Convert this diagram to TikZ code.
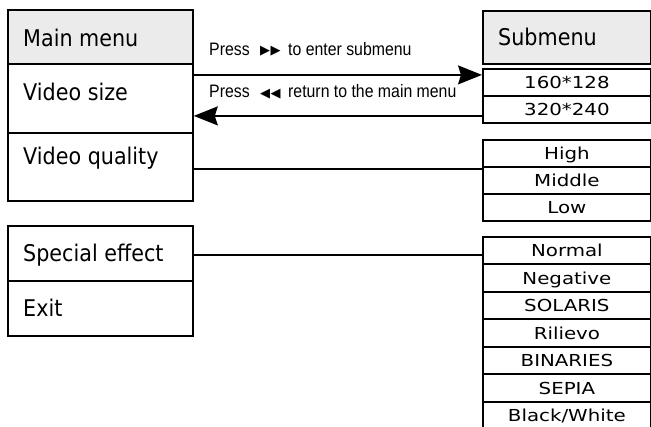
\documentclass[tikz,border=0pt]{standalone}
\usepackage{fontspec}
\setmainfont{DejaVu Sans}
\newfontfamily\menufont[FakeStretch=0.9]{DejaVu Sans}
\newfontfamily\itemfont[FakeStretch=1.2]{DejaVu Sans}
\newfontfamily\pressfont[FakeStretch=0.88]{Liberation Sans}
\newfontfamily\symfont{DejaVu Sans}
\usetikzlibrary{arrows.meta}
\definecolor{hdrgray}{RGB}{235,235,235}
\begin{document}
\begin{tikzpicture}[x=1pt,y=-1pt,
  cell/.style={draw=black, line width=1.8pt, anchor=north west, inner sep=0pt,
    text height=12pt, text depth=0pt, font=\itemfont\fontsize{16.5}{19}\selectfont},
  hdr/.style={cell, fill=hdrgray},
  mtext/.style={anchor=base west, inner sep=0pt, font=\menufont\fontsize{23}{26}\selectfont},
  ptext/.style={anchor=base west, inner sep=0pt, font=\pressfont\fontsize{18}{20}\selectfont},
  tri/.style={anchor=base west, inner sep=0pt, font=\symfont\fontsize{13}{14}\selectfont},
  conn/.style={line width=1.6pt},
  arr/.style={conn, -{Stealth[length=24pt,width=19pt,inset=3pt]}}]
\useasboundingbox (0,0) rectangle (651,427);

% main menu
\node[hdr, minimum width=185pt, minimum height=54pt] (mhead) at (7,9) {};
\node[cell, minimum width=185pt, minimum height=69pt] (msize) at (7,63) {};
\node[cell, minimum width=185pt, minimum height=68pt] (mqual) at (7,132) {};
\node[cell, minimum width=185pt, minimum height=55pt] (meff) at (7,225) {};
\node[cell, minimum width=185pt, minimum height=55pt] (mexit) at (7,280) {};
\node[mtext] (tmain) at (23,47) {Main menu};
\node[mtext] (tsize) at (23,101) {Video size};
\node[mtext] (tqual) at (23,165) {Video quality};
\node[mtext] (teff) at (23,262) {Special effect};
\node[mtext] (texit) at (23,316.5) {Exit};

% submenu
\node[hdr, minimum width=168pt, minimum height=53pt] (shead) at (482,10) {};
\node[mtext] (tsub) at (498,45.5) {Submenu};
\node[cell, minimum width=168pt, minimum height=27pt] (s1) at (482,68) {160*128};
\node[cell, minimum width=168pt, minimum height=27pt] (s2) at (482,95) {320*240};
\node[cell, minimum width=168pt, minimum height=27pt] (q1) at (482,139) {High};
\node[cell, minimum width=168pt, minimum height=27pt] (q2) at (482,166) {Middle};
\node[cell, minimum width=168pt, minimum height=27pt] (q3) at (482,193) {Low};
\node[cell, minimum width=168pt, minimum height=27.5pt] (e1) at (482,236) {Normal};
\node[cell, minimum width=168pt, minimum height=27.5pt] (e2) at (482,263.5) {Negative};
\node[cell, minimum width=168pt, minimum height=27.5pt] (e3) at (482,291) {SOLARIS};
\node[cell, minimum width=168pt, minimum height=27.5pt] (e4) at (482,318.5) {Rilievo};
\node[cell, minimum width=168pt, minimum height=27.5pt] (e5) at (482,346) {BINARIES};
\node[cell, minimum width=168pt, minimum height=27.5pt] (e6) at (482,373.5) {SEPIA};
\node[cell, minimum width=168pt, minimum height=27.5pt] (e7) at (482,401) {Black/White};

% labels above arrows
\node[ptext] (p1) at (209,55.5) {Press};
\node[tri] (r1) at (260,55) {▶\hspace{0.5pt}▶};
\node[ptext] (p1b) at (288,55.5) {to enter submenu};
\node[ptext] (p2) at (209,98) {Press};
\node[tri] (r2) at (260,97.5) {◀\hspace{0.5pt}◀};
\node[ptext] (p2b) at (288,98) {return to the main menu};

% connectors
\coordinate (t1) at ([yshift=7.5pt]s1.west);
\coordinate (t2) at ([yshift=-6.5pt]s2.west);
\coordinate (t3) at ([yshift=-2pt]mqual.east);
\coordinate (t4) at ([yshift=-1.5pt]meff.east);
\draw[arr] (msize.east |- t1) -- (t1);
\draw[arr] (t2) -- (msize.east |- t2);
\draw[conn] (t3) -- (t3 -| q1.west);
\draw[conn] (t4) -- (t4 -| e1.west);
\end{tikzpicture}
\end{document}
